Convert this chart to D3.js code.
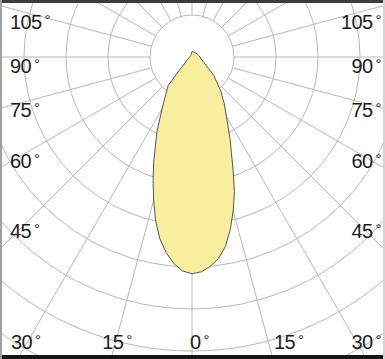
<!DOCTYPE html>
<html>
  <head>
    <title> Light distribution </title>
    <script src="https://d3js.org/d3.v7.min.js"></script>
    <style>
      body { margin: 0; background: white; }
      text {
        font-family: "Liberation Sans", Arial, sans-serif;
        font-size: 20px;
        letter-spacing: -0.6px;
        fill: #1c1c1c;
      }
      .grid { fill: none; stroke: #b8b8b8; stroke-width: 1; }
    </style>
  </head>
  <body>
    <svg id="main" width="385" height="359"></svg>
    <script>

      // gamma angles (deg from straight down) and intensity on each half
      var gammaAngles = [0, 2.5, 5, 7.5, 10, 12.5, 15, 17.5, 20, 25, 30, 35, 40, 45, 50, 55, 60, 75, 90, 105, 120, 135, 150, 165, 180];
      var rightValues = [516, 512, 500, 484, 458, 421, 379, 336, 286, 214, 164, 133, 107, 83, 67, 48, 38, 24, 19, 16, 14, 13, 12, 13, 13];
      var leftValues  = [516, 510, 494, 470, 440, 400, 353, 308, 267, 198, 143, 109, 88, 36, 22, 16, 13, 8, 6, 5, 5, 5, 5, 6, 13];

      var ringValues = [100, 200, 300, 400, 500, 600, 700, 800, 900];
      var spokeAngles = d3.range(0, 360, 15);
      var sideTicks = [105, 90, 75, 60, 45];
      var bottomTicks = [30, 15, 0];

      var W = 385, H = 359;
      var cx = 192, cy = 57;

      var r = d3.scaleLinear().domain([0, 700]).range([0, 294]);

      var svg = d3.select('#main');

      svg.append('defs').append('clipPath').attr('id', 'frame')
        .append('rect').attr('x', 2).attr('y', 3).attr('width', 381).attr('height', 352);

      var g = svg.append('g').attr('clip-path', 'url(#frame)');
      var plot = g.append('g').attr('transform', 'translate(' + cx + ',' + cy + ')');

      // rings
      plot.selectAll('circle.ring')
        .data(ringValues)
        .enter()
        .append('circle')
        .attr('class', 'grid')
        .attr('r', function(d){ return r(d); });

      // spokes, starting at the first ring
      plot.selectAll('line.spoke')
        .data(spokeAngles)
        .enter()
        .append('line')
        .attr('class', 'grid')
        .attr('x1', function(d){ return r(ringValues[0]) * Math.sin(d * Math.PI / 180); })
        .attr('y1', function(d){ return r(ringValues[0]) * Math.cos(d * Math.PI / 180); })
        .attr('x2', function(d){ return 600 * Math.sin(d * Math.PI / 180); })
        .attr('y2', function(d){ return 600 * Math.cos(d * Math.PI / 180); });

      // curve: right half going up, left half coming back down
      var pts = [];
      for (var i = 0; i < gammaAngles.length; i++) {
        pts.push([Math.PI - gammaAngles[i] * Math.PI / 180, r(rightValues[i])]);
      }
      for (var j = gammaAngles.length - 2; j > 0; j--) {
        pts.push([Math.PI + gammaAngles[j] * Math.PI / 180, r(leftValues[j])]);
      }

      var curve = d3.lineRadial()
        .angle(function(d){ return d[0]; })
        .radius(function(d){ return d[1]; })
        .curve(d3.curveLinearClosed);

      plot.append('path')
        .attr('d', curve(pts))
        .style('fill', '#f9ee9e')
        .style('stroke', '#555')
        .style('stroke-width', 1);

      function addLabel(x, y, txt, anchor) {
        var t = svg.append('text')
          .attr('x', x)
          .attr('y', y)
          .attr('text-anchor', anchor)
          .text(txt);
        t.append('tspan')
          .attr('dx', 3)
          .attr('dy', -4)
          .style('font-size', '15px')
          .text('°');
      }

      // labels on the sides
      sideTicks.forEach(function(d){
        var a = d * Math.PI / 180;
        var y = cy + 165 * Math.cos(a) / Math.sin(a) + 16;
        addLabel(10, y, d, 'start');
        addLabel(381, y, d, 'end');
      });

      // labels along the bottom
      bottomTicks.forEach(function(d){
        var off = 291 * Math.tan(d * Math.PI / 180);
        if (d == 0) {
          addLabel(cx - 2, 349, d, 'start');
        } else if (d == 30) {
          addLabel(11, 349, d, 'start');
          addLabel(381, 349, d, 'end');
        } else {
          addLabel(cx - off + 3, 349, d, 'middle');
          addLabel(cx + off + 4, 349, d, 'start');
        }
      });

      // frame
      svg.append('rect').attr('x', 0).attr('y', 0).attr('width', W).attr('height', 3).style('fill', '#3c3c3c');
      svg.append('rect').attr('x', 0).attr('y', 355).attr('width', W).attr('height', 4).style('fill', '#151515');
      svg.append('rect').attr('x', 0).attr('y', 0).attr('width', 2).attr('height', H).style('fill', '#a0a0a0');
      svg.append('rect').attr('x', 383).attr('y', 0).attr('width', 2).attr('height', H).style('fill', '#d4d4d4');

    </script>
  </body>
</html>
